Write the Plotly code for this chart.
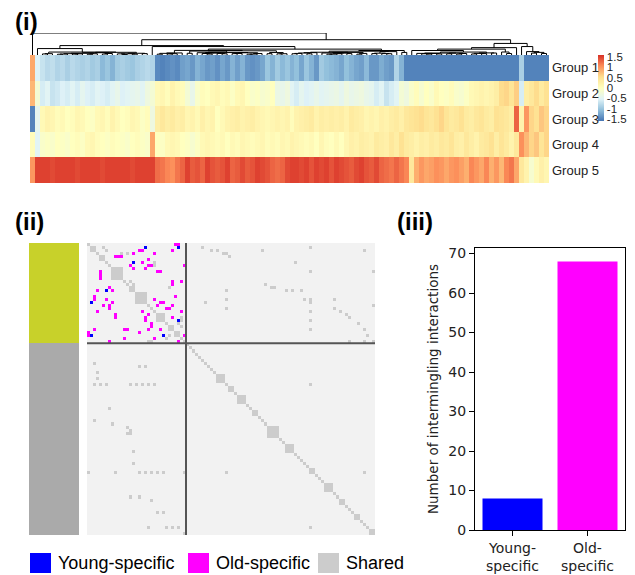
import numpy as np
import plotly.graph_objects as go

# ---------------- Panel (i) data: heatmap rows (columns in displayed order) ----------------
groups = ["Group 1", "Group 2", "Group 3", "Group 4", "Group 5"]

g1 = [0.9, -0.55, -0.7, -0.8, -0.75, -0.85, -0.8, -0.9, -0.8, -0.85, -0.9, -0.85, -0.95, -0.9, -1.1, -1.0,
      -1.15, -0.95, -0.9, -0.95, -1.0, -0.9, -0.85, -0.8, -0.85, -1.45, -1.5, -1.45, -1.4, -1.45, -1.3, -1.25,
      -1.35, -1.15, -1.25, -1.35, -1.3, -1.4, -1.25, -1.35, -1.15, -1.3, -1.15, -1.35, -1.4, -1.35, -1.25, -1.0,
      -1.15, -0.95, -1.1, -1.0, -1.15, -1.05, -1.25, -1.0, -1.15, -1.35, -0.95, -1.05, -1.1, -1.15, -1.25, -1.05,
      -1.15, -1.25, -1.3, -1.1, -1.35, -1.35, -1.2, -1.3, -1.35, -0.85, -1.15, -1.5, -1.5, -1.5, -1.5, -1.5,
      -1.5, -1.5, -1.5, -1.5, -1.5, -1.5, -1.5, -1.5, -1.5, -1.5, -1.5, -1.5, -1.5, -1.5, -1.5, -1.5,
      -1.5, -1.5, -0.9, -1.5, -1.5, -1.5, -1.5, -1.5]
g2 = [0.8, -0.2, -0.6, -0.5, -0.7, -0.65, -0.55, -0.6, -0.5, -0.6, -0.45, -0.55, -0.6, -0.5, -0.55, -0.6,
      -0.5, -0.4, -0.55, -0.5, -0.45, -0.4, -0.5, -0.3, -0.2, 0.1, 0.15, 0.05, 0.2, 0.1, 0.05, -0.2,
      -0.4, -0.1, 0.05, 0.0, 0.1, 0.15, 0.05, 0.1, -0.05, 0.1, 0.15, 0.0, -0.1, -0.05, -0.15, -0.1,
      0.0, -0.35, -0.4, -0.3, -0.5, -0.6, -0.45, -0.55, -0.5, -0.4, -0.5, -0.45, -0.4, -0.35, -0.45, -0.3,
      -0.4, -0.35, -0.3, -0.4, -0.45, -0.6, -0.5, -0.7, -0.6, -0.5, -0.2, -0.3, -0.1, 0.05, -0.15, 0.0,
      -0.1, 0.1, 0.0, -0.05, 0.05, -0.1, -0.15, -0.05, 0.1, 0.15, 0.2, 0.15, 0.2, 0.3, 0.55, 0.6,
      0.45, 0.65, -0.6, 0.3, 0.4, 0.55, 0.35, 0.5]
g3 = [-1.5, -0.45, 0.1, 0.2, 0.15, 0.05, 0.1, 0.0, 0.05, 0.15, 0.1, 0.0, -0.05, 0.1, 0.15, 0.05,
      0.2, 0.1, 0.0, 0.05, 0.15, 0.1, -0.05, 0.05, -0.3, 0.3, 0.4, 0.3, 0.35, 0.25, 0.3, 0.15,
      0.2, 0.1, 0.25, 0.15, 0.2, 0.0, 0.1, 0.2, 0.25, 0.3, 0.2, 0.25, 0.3, 0.2, 0.15, 0.1,
      0.15, 0.2, 0.15, 0.2, 0.05, 0.2, 0.25, 0.3, 0.35, 0.2, 0.3, 0.25, 0.3, 0.25, 0.3, 0.2,
      0.35, 0.3, 0.25, 0.15, 0.2, 0.15, 0.25, 0.2, 0.3, 0.35, 0.25, 0.4, 0.45, 0.5, 0.55, 0.45,
      0.4, 0.5, 0.6, 0.45, 0.35, 0.4, 0.5, 0.35, 0.3, 0.4, 0.45, 0.35, 0.3, 0.5, 0.45, 0.4,
      0.3, 1.3, 0.2, 1.0, 0.6, 0.5, 0.7, 0.6]
g4 = [0.05, -0.5, -0.1, -0.05, -0.1, 0.0, -0.05, -0.1, 0.0, 0.05, -0.05, 0.1, 0.15, 0.05, 0.0, -0.05,
      0.05, 0.0, -0.05, -0.1, 0.0, 0.05, -0.05, -0.1, 0.9, 0.0, -0.05, 0.1, 0.15, 0.1, 0.0, -0.05,
      -0.15, -0.05, 0.1, 0.15, 0.1, 0.05, 0.1, 0.0, 0.1, 0.05, 0.15, 0.1, 0.05, 0.1, 0.15, 0.05,
      0.1, 0.05, 0.15, 0.1, 0.2, 0.15, 0.1, 0.05, 0.1, 0.0, 0.15, 0.05, 0.0, 0.1, 0.0, 0.15,
      0.25, 0.2, 0.3, 0.25, 0.2, 0.35, 0.3, 0.25, 0.4, 0.3, 0.5, 0.35, 0.3, 0.2, 0.3, 0.25,
      0.35, 0.3, 0.4, 0.35, 0.45, 0.3, 0.25, 0.4, 0.3, 0.2, 0.35, 0.4, 0.5, 0.3, 0.45, 0.35,
      0.2, 0.4, 1.05, 0.8, 0.6, 0.7, 0.45, 0.6]
g5 = [1.0, 1.5, 1.5, 1.5, 1.45, 1.5, 1.5, 1.5, 1.5, 1.45, 1.5, 1.5, 1.5, 1.5, 1.45, 1.5,
      1.5, 1.5, 1.5, 1.5, 1.45, 1.5, 1.5, 1.5, 1.5, 1.25, 1.2, 1.1, 1.05, 1.2, 1.3, 1.5,
      1.35, 1.4, 1.3, 1.5, 1.4, 1.35, 1.4, 1.5, 1.3, 1.35, 1.45, 1.35, 1.4, 1.5, 1.45, 1.4,
      1.3, 1.25, 1.3, 1.45, 1.5, 1.5, 1.45, 1.5, 1.4, 1.5, 1.45, 1.5, 1.4, 1.5, 1.45, 1.4,
      1.35, 1.45, 1.5, 1.4, 1.35, 1.45, 1.3, 1.25, 1.2, 1.3, 1.2, 1.1, 0.4, 0.85, 1.0, 0.9,
      0.95, 1.05, 1.0, 0.9, 1.0, 1.05, 0.95, 0.85, 1.1, 1.0, 0.9, 1.1, 0.85, 1.0, 0.8, 1.1,
      1.2, 0.9, 0.4, 0.2, -0.15, 0.1, 0.25, 0.15]
cbar_ticks = [-1.5, -1, -0.5, 0, 0.5, 1, 1.5]
cbar_ticktext = ["-1.5", "-1", "-0.5", "0", "0.5", "1", "1.5"]

# ---------------- Panel (ii) data: contact-type matrix ----------------
n_bins = 96
group_sizes = [33, 63]
group_colors = ["#c8d12a", "#aaaaaa"]
# diagonal blocks: (start bin, size)
diag_blocks = [(1, 2), (4, 2), (8, 4), (14, 2), (16, 4), (23, 3), (27, 2), (29, 2),
               (43, 3), (47, 2), (50, 3), (55, 2), (60, 4), (66, 3), (74, 2), (79, 3),
               (84, 2), (89, 2), (94, 2)]
# old-specific interacting bin pairs (symmetric)
old_pairs = [(4, 9), (4, 10), (4, 11), (2, 17), (2, 18), (0, 29), (2, 28), (5, 20), (7, 20), (7, 21),
             (8, 15), (8, 19), (9, 23), (9, 24), (7, 14), (3, 22), (7, 32), (12, 28), (13, 28), (12, 31),
             (3, 15), (6, 18), (19, 24), (19, 25), (21, 26), (21, 27), (20, 28), (24, 28), (22, 31),
             (17, 29), (30, 32), (18, 22), (20, 23), (0, 30)]
# young-specific interacting bin pairs (symmetric)
young_pairs = [(6, 15), (1, 19), (1, 30), (25, 30)]
# shared off-diagonal cells (row, col)
shared_cells = [(1, 38), (2, 41), (2, 43), (3, 45), (3, 46), (4, 47), (2, 58), (1, 74), (2, 92), (6, 69),
                (9, 74), (9, 95), (13, 59), (14, 61), (14, 62), (15, 66), (15, 68), (15, 71), (18, 72),
                (18, 74), (19, 74), (18, 82), (21, 82), (22, 84), (23, 86), (24, 87), (26, 90), (28, 92),
                (30, 93), (22, 74), (25, 74), (28, 74), (15, 46), (18, 46), (21, 46), (20, 95), (19, 39),
                (32, 87), (32, 92), (32, 95),
                (39, 2), (42, 3), (44, 3), (46, 4), (46, 2), (46, 6), (46, 14), (46, 16), (46, 18),
                (46, 20), (46, 22), (40, 17), (40, 19), (54, 7), (58, 2), (59, 8), (60, 13), (61, 14),
                (62, 14), (62, 13), (68, 15), (72, 15), (75, 17), (75, 19), (75, 21), (75, 23), (75, 25),
                (75, 0), (75, 9), (75, 32), (83, 14), (83, 17), (84, 21), (88, 23), (88, 25), (93, 20),
                (93, 26), (93, 28), (93, 30), (95, 32),
                (46, 74), (75, 46), (75, 92), (93, 74),
                (1, 5), (2, 6), (3, 11), (3, 13), (6, 22), (7, 22), (12, 14), (13, 15), (14, 27),
                (26, 30), (27, 31), (30, 27), (31, 26), (32, 20), (32, 21), (24, 31), (25, 31)]

# ---------------- Panel (iii) data ----------------
bar_cats = ["Young-<br>specific", "Old-<br>specific"]
bar_vals = [8, 68]
bar_colors = ["#0000ff", "#ff00ff"]

legend_labels = ["Young-specific", "Old-specific", "Shared"]
legend_colors = ["#0000ff", "#ff00ff", "#cccccc"]
panel_labels = ["(i)", "(ii)", "(iii)"]

# ---------------- Build ----------------
W, H = 635, 575
def px(x):
    return x / W
def py(y):
    return 1 - y / H

Z = np.array([g1, g2, g3, g4, g5])
ncol = Z.shape[1]

# column dendrogram: complete linkage restricted to neighbouring clusters (keeps display order)
cols = Z.T
D = np.sqrt(((cols[:, None, :] - cols[None, :, :]) ** 2).sum(-1))
clusters = [{"m": [i], "x": float(i), "h": 0.0} for i in range(ncol)]
dx, dy = [], []
while len(clusters) > 1:
    best = None
    for k in range(len(clusters) - 1):
        a, b = clusters[k], clusters[k + 1]
        d = D[np.ix_(a["m"], b["m"])].max()
        if best is None or d < best[0]:
            best = (d, k)
    d, k = best
    a, b = clusters[k], clusters[k + 1]
    dx += [a["x"], a["x"], b["x"], b["x"], None]
    dy += [a["h"], d, d, b["h"], None]
    clusters[k:k + 2] = [{"m": a["m"] + b["m"], "x": (a["x"] + b["x"]) / 2, "h": d}]
maxh = clusters[0]["h"]

rdylbu = [[0.0, "#4575b4"], [1 / 6, "#91bfdb"], [2 / 6, "#e0f3f8"], [3 / 6, "#ffffbf"],
          [4 / 6, "#fee090"], [5 / 6, "#fc8d59"], [1.0, "#d73027"]]

# matrix
M = np.zeros((n_bins, n_bins))
for i in range(n_bins):
    M[i, i] = 1
for s, w in diag_blocks:
    M[s:s + w, s:s + w] = 1
for r, c in shared_cells:
    M[r, c] = 1
for a, b in old_pairs:
    M[a, b] = 2
    M[b, a] = 2
for a, b in young_pairs:
    M[a, b] = 3
    M[b, a] = 3
mat_scale = [[0, "#f2f2f2"], [0.25, "#f2f2f2"], [0.25, "#cccccc"], [0.5, "#cccccc"],
             [0.5, "#ff00ff"], [0.75, "#ff00ff"], [0.75, "#0000ff"], [1, "#0000ff"]]

side = []
for gi, size in enumerate(group_sizes):
    side += [[gi]] * size
side_scale = [[0, group_colors[0]], [0.5, group_colors[0]], [0.5, group_colors[1]], [1, group_colors[1]]]

fig = go.Figure()
fig.add_trace(go.Heatmap(
    z=Z, x=list(range(ncol)), y=list(range(len(groups))), colorscale=rdylbu, zmin=-1.6, zmax=1.6,
    xaxis="x", yaxis="y", hoverinfo="skip",
    colorbar=dict(thickness=6, thicknessmode="pixels", len=66, lenmode="pixels",
                  x=px(598), xanchor="left", y=py(55), yanchor="top", xpad=0, ypad=0,
                  outlinewidth=0, tickvals=cbar_ticks, ticktext=cbar_ticktext, ticks="",
                  tickfont=dict(family="Liberation Sans", size=11.5, color="#222"))))
fig.add_trace(go.Scatter(x=dx, y=dy, mode="lines", line=dict(color="black", width=1),
                         xaxis="x2", yaxis="y2", hoverinfo="skip", showlegend=False))
fig.add_trace(go.Heatmap(z=side, xaxis="x4", yaxis="y4", colorscale=side_scale, zmin=0, zmax=1,
                         showscale=False, hoverinfo="skip"))
fig.add_trace(go.Heatmap(z=M, xaxis="x5", yaxis="y5", colorscale=mat_scale, zmin=-0.5, zmax=3.5,
                         showscale=False, hoverinfo="skip"))
fig.add_trace(go.Bar(x=bar_cats, y=bar_vals, marker=dict(color=bar_colors, line=dict(width=0)),
                     width=0.8, xaxis="x3", yaxis="y3", showlegend=False))

hid = dict(visible=False, showgrid=False, zeroline=False)
fig.update_layout(
    width=W, height=H, margin=dict(l=0, r=0, t=0, b=0, autoexpand=False), autosize=False,
    paper_bgcolor="white", plot_bgcolor="white", showlegend=False,
    xaxis=dict(domain=[px(30), px(549)], range=[-0.5, ncol - 0.5], **hid),
    yaxis=dict(domain=[py(183), py(55)], range=[4.5, -0.5], **hid),
    xaxis2=dict(domain=[px(30), px(549)], range=[-0.5, ncol - 0.5], anchor="y2", **hid),
    yaxis2=dict(domain=[py(55), py(33)], range=[0, maxh], anchor="x2", **hid),
    xaxis4=dict(domain=[px(29), px(79)], range=[-0.5, 0.5], anchor="y4", **hid),
    yaxis4=dict(domain=[py(535), py(243)], range=[n_bins - 0.5, -0.5], anchor="x4", **hid),
    xaxis5=dict(domain=[px(87), px(375)], range=[-0.5, n_bins - 0.5], anchor="y5", **hid),
    yaxis5=dict(domain=[py(535), py(243)], range=[n_bins - 0.5, -0.5], anchor="x5", **hid),
    xaxis3=dict(domain=[px(475), px(625)], range=[-0.5, 1.5], anchor="y3", showline=True, mirror=True,
                linecolor="black", linewidth=1, ticks="outside", ticklen=5, tickcolor="black",
                showgrid=False, zeroline=False, automargin=False,
                tickfont=dict(family="DejaVu Sans", size=14, color="#222")),
    yaxis3=dict(domain=[py(530), py(248)], range=[0, 71.4], anchor="x3", dtick=10, showline=True,
                mirror=True, linecolor="black", linewidth=1, ticks="outside", ticklen=5,
                tickcolor="black", showgrid=False, zeroline=False, automargin=False,
                tickfont=dict(family="DejaVu Sans", size=14, color="#222"),
                title=dict(text="Number of intermingling interactions",
                           font=dict(family="DejaVu Sans", size=13.5, color="#222"), standoff=6)),
)

shapes = []
b = group_sizes[0] - 0.5
shapes.append(dict(type="line", xref="x5", yref="y5", x0=b, x1=b, y0=-0.5, y1=n_bins - 0.5,
                   line=dict(color="#555555", width=2)))
shapes.append(dict(type="line", xref="x5", yref="y5", x0=-0.5, x1=n_bins - 0.5, y0=b, y1=b,
                   line=dict(color="#555555", width=2)))

annots = []
for i, g in enumerate(groups):
    annots.append(dict(text=g, xref="paper", yref="y", x=px(550), y=i, xanchor="left",
                       yanchor="middle", showarrow=False,
                       font=dict(family="Liberation Sans", size=13, color="#222")))
for lab, (x, y) in zip(panel_labels, [(13, 22), (13, 222), (395, 222)]):
    annots.append(dict(text="<b>%s</b>" % lab, xref="paper", yref="paper", x=px(x), y=py(y),
                       xanchor="left", yanchor="middle", showarrow=False,
                       font=dict(family="Liberation Sans", size=24, color="black")))

leg_x = [30, 188, 318]
for lab, col, x0 in zip(legend_labels, legend_colors, leg_x):
    shapes.append(dict(type="rect", xref="paper", yref="paper", x0=px(x0), x1=px(x0 + 21),
                       y0=py(573), y1=py(553), fillcolor=col, line=dict(width=0)))
    annots.append(dict(text=lab, xref="paper", yref="paper", x=px(x0 + 26), y=py(563),
                       xanchor="left", yanchor="middle", showarrow=False,
                       font=dict(family="Liberation Sans", size=18, color="black")))

fig.update_layout(shapes=shapes, annotations=annots)
fig.write_html("out.html", config={"displayModeBar": False, "responsive": False},
               post_script="document.body.style.margin='0px';")
